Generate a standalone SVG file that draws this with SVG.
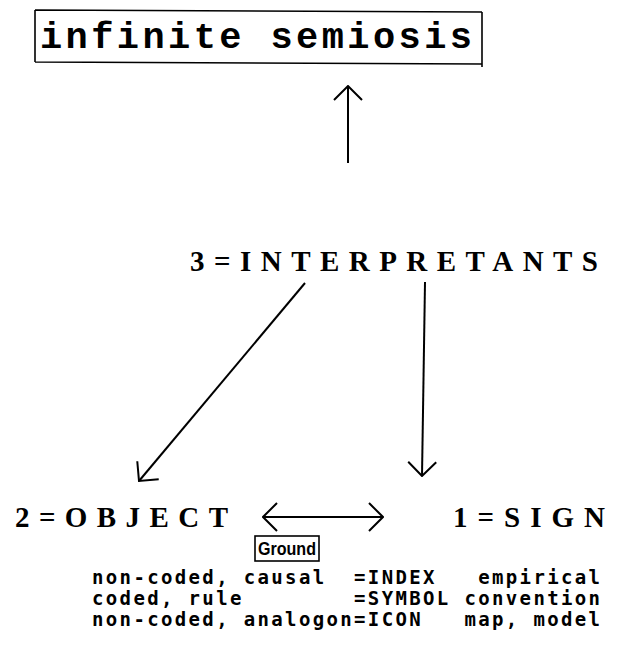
<svg xmlns="http://www.w3.org/2000/svg" width="619" height="649" viewBox="0 0 619 649">
<style>
.ln{stroke:#000;stroke-width:2;fill:none}
.bx{stroke:#000;stroke-width:1.6;fill:none}
.t1{font-family:"Liberation Mono",monospace;font-weight:bold;font-size:37px}
.t2{font-family:"Liberation Serif",serif;font-weight:bold;font-size:29px}
.t3{font-family:"DejaVu Sans Mono","Liberation Mono",monospace;font-weight:bold;font-size:19px;white-space:pre}
.t4{font-family:"Liberation Sans",sans-serif;font-weight:bold;font-size:19px}
</style>
<defs>
<marker id="ah" viewBox="0 0 16 30" refX="15" refY="15" markerWidth="16" markerHeight="30" markerUnits="userSpaceOnUse" orient="auto-start-reverse">
<path d="M1,1 L15,15 L1,29" fill="none" stroke="#000" stroke-width="2"/>
</marker>
</defs>
<rect width="619" height="649" fill="#fff"/>
<g id="semiosis">
<path class="bx" d="M35,10 L482,12 M35,62 L482,64 M35,10 L35,62 M482,12 L482,67"/>
<text class="t1" x="40" y="48" textLength="432" lengthAdjust="spacing">infinite semiosis</text>
</g>
<g id="interpretants">
<text class="t2" x="190" y="271" textLength="408" lengthAdjust="spacing">3=INTERPRETANTS</text>
</g>
<g id="object">
<text class="t2" x="15" y="527" textLength="213" lengthAdjust="spacing">2=OBJECT</text>
</g>
<g id="sign">
<text class="t2" x="453" y="527" textLength="152" lengthAdjust="spacing">1=SIGN</text>
</g>
<g id="ground">
<rect class="bx" x="255" y="536" width="64" height="25"/>
<text class="t4" x="258" y="555" textLength="58" lengthAdjust="spacingAndGlyphs">Ground</text>
</g>
<g id="legend">
<text class="t3" x="92" y="584" xml:space="preserve" textLength="508" lengthAdjust="spacing">non-coded, causal  =INDEX   empirical</text>
<text class="t3" x="92" y="605" xml:space="preserve" textLength="508" lengthAdjust="spacing">coded, rule        =SYMBOL convention</text>
<text class="t3" x="92" y="626" xml:space="preserve" textLength="508" lengthAdjust="spacing">non-coded, analogon=ICON   map, model</text>
</g>
<g id="connectors">
<path class="ln" d="M348,163 L348,86" marker-end="url(#ah)"/>
<path class="ln" d="M305,283 L139,481" marker-end="url(#ah)"/>
<path class="ln" d="M425,282 L422,476" marker-end="url(#ah)"/>
<path class="ln" d="M263,517 L383,517" marker-start="url(#ah)" marker-end="url(#ah)"/>
</g>
</svg>
